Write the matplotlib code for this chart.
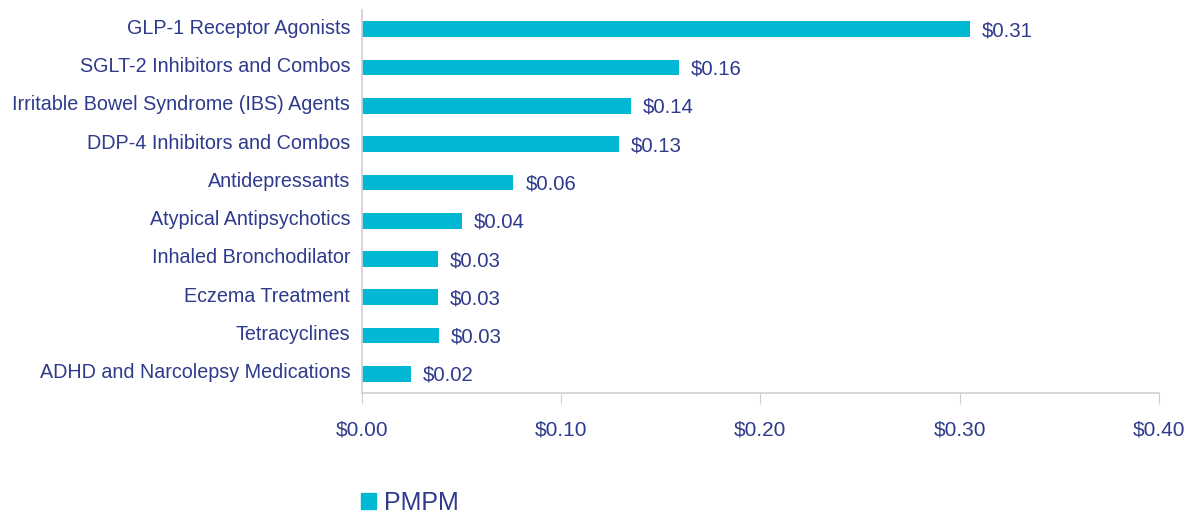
import matplotlib
matplotlib.use("Agg")
import matplotlib.pyplot as plt
import matplotlib.transforms as mtrans
from matplotlib.patches import Patch

plt.rcParams['font.family'] = ['Liberation Sans', 'DejaVu Sans']

categories = ['GLP-1 Receptor Agonists', 'SGLT-2 Inhibitors and Combos',
              'Irritable Bowel Syndrome (IBS) Agents', 'DDP-4 Inhibitors and Combos',
              'Antidepressants', 'Atypical Antipsychotics', 'Inhaled Bronchodilator',
              'Eczema Treatment', 'Tetracyclines', 'ADHD and Narcolepsy Medications']
pmpm = [0.305, 0.159, 0.135, 0.129, 0.076, 0.050, 0.038, 0.038, 0.0385, 0.0245]
value_labels = ['$0.31', '$0.16', '$0.14', '$0.13', '$0.06', '$0.04', '$0.03', '$0.03', '$0.03', '$0.02']
xticks = [0, 0.1, 0.2, 0.3, 0.4]
xtick_labels = ['$0.00', '$0.10', '$0.20', '$0.30', '$0.40']

bar_color = '#00b8d4'
text_color = '#2e3a8c'
grid_color = '#d0d0d0'

fig = plt.figure(figsize=(11.86, 5.14), dpi=100)
ax = fig.add_axes([0.3052, 0.2354, 0.672, 0.745])

y = list(range(len(categories)))
ax.barh(y, pmpm, height=0.41, color=bar_color)
ax.set_ylim(len(categories) - 0.5, -0.5)
ax.set_xlim(0, 0.4)

# value labels right of the bars
for yi, v, lab in zip(y, pmpm, value_labels):
    ax.text(v + 0.006, yi + 0.04, lab, va='center', ha='left', fontsize=14.7, color=text_color)

ax.set_yticks(y)
ax.set_yticklabels(categories, fontsize=14.2, color=text_color)
ax.tick_params(axis='y', length=0, pad=8.5)
ax.set_xticks(xticks)
ax.set_xticklabels(xtick_labels, fontsize=15, color=text_color)
ax.tick_params(axis='x', length=8, color=grid_color, pad=12)

for s in ['top', 'right']:
    ax.spines[s].set_visible(False)
for s in ['left', 'bottom']:
    ax.spines[s].set_color(grid_color)
    ax.spines[s].set_linewidth(1.2)

# category labels sit a little above the bar centre
offset = mtrans.ScaledTranslation(0, 3 / 100, fig.dpi_scale_trans)
for t in ax.get_yticklabels():
    t.set_transform(t.get_transform() + offset)

fig.legend(handles=[Patch(color=bar_color, label='PMPM')], loc='center left',
           bbox_to_anchor=(0.285, 0.022), frameon=False, fontsize=18,
           handlelength=0.6, handleheight=0.6, handletextpad=0.35,
           labelcolor=text_color)

fig.savefig('out.png', dpi=100)
